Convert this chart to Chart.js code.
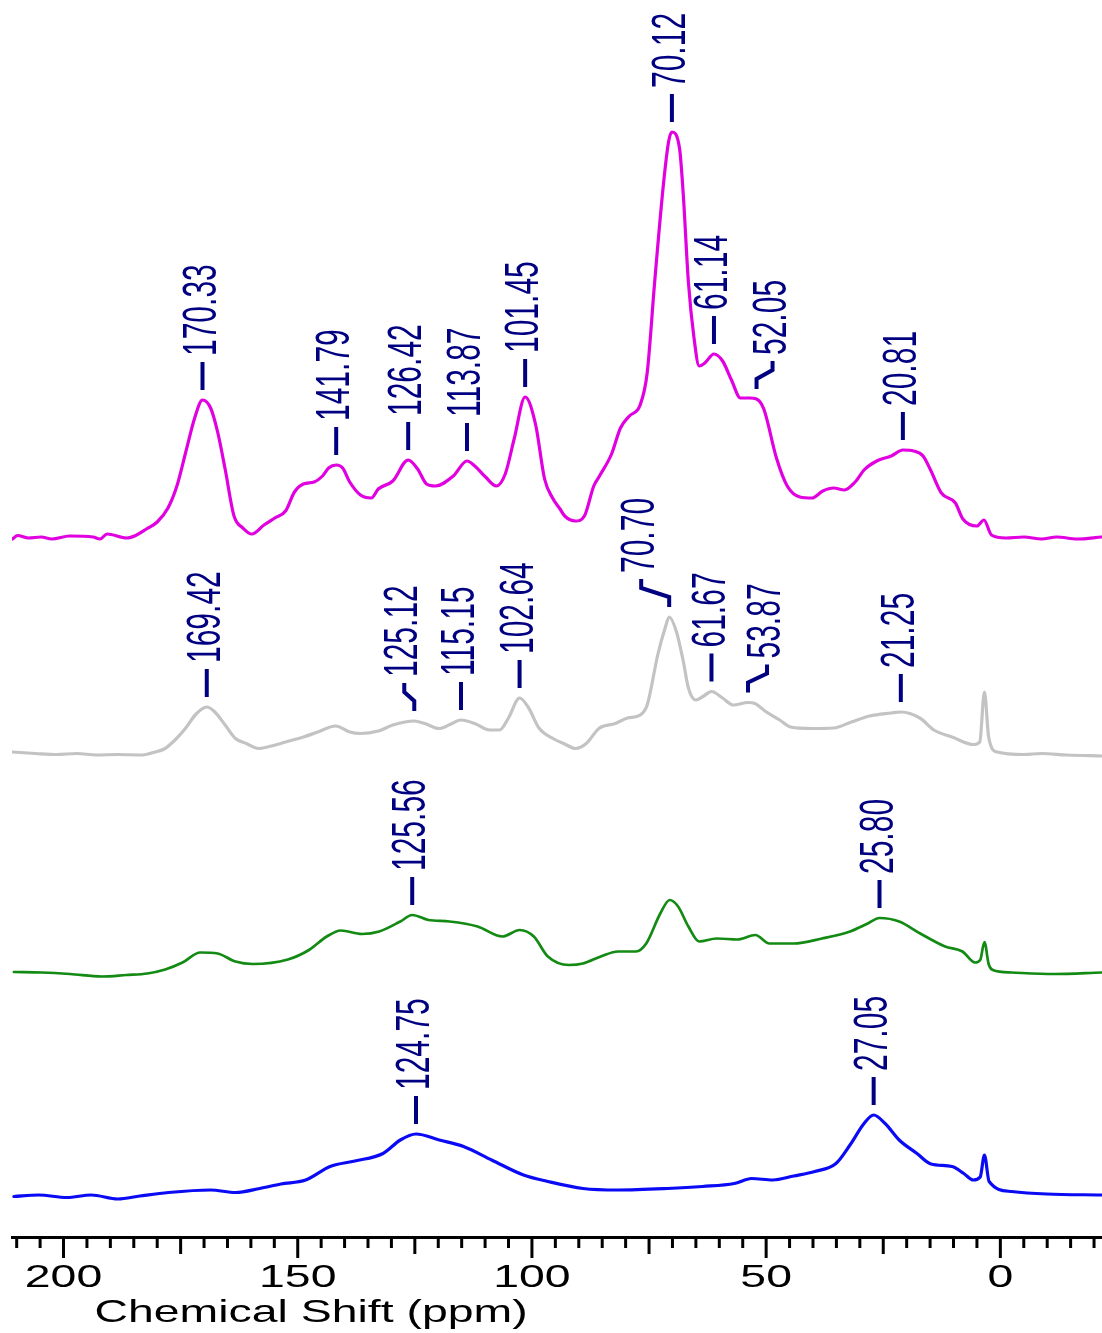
<!DOCTYPE html>
<html>
<head>
<meta charset="utf-8">
<script src="https://cdn.jsdelivr.net/npm/chart.js@4.4.1/dist/chart.umd.min.js"></script>
<style>
  html, body { margin: 0; padding: 0; background: #ffffff; }
  canvas { display: block; }
</style>
</head>
<body>
<canvas id="nmr" width="1102" height="1333"></canvas>
<script>
// 13C solid-state NMR spectra: chemical shift (ppm) against intensity (a.u.),
// four samples stacked from top to bottom.

// --- magenta (top) spectrum ---
const magentaPpm = [210.9, 209.8, 207.5, 204.8, 202.5, 198.7, 193.7, 192.2, 190.7, 186.5, 184.6, 182.3, 180.0, 177.7, 175.8, 173.9, 172.0, 170.33, 168.6, 167.1, 165.5, 163.6, 161.7, 159.8, 157.2, 154.9, 152.6, 150.7, 148.8, 146.5, 144.7, 143.4, 141.79, 140.4, 138.9, 136.6, 134.3, 132.8, 129.7, 126.42, 124.4, 122.5, 120.6, 116.8, 113.87, 112.2, 109.9, 107.6, 105.7, 103.8, 101.45, 99.2, 97.3, 95.6, 94.0, 93.0, 90.7, 88.8, 86.8, 85.7, 83.0, 81.1, 79.2, 76.9, 75.4, 73.8, 71.9, 70.8, 70.12, 68.5, 67.7, 66.6, 65.4, 64.3, 63.1, 61.14, 59.3, 57.4, 55.5, 53.5, 52.05, 50.5, 47.8, 45.5, 42.8, 40.2, 37.9, 35.6, 33.3, 31.0, 29.1, 26.4, 23.3, 20.81, 18.5, 16.5, 14.9, 12.6, 9.6, 8.0, 5.0, 3.5, 1.9, -1.2, -5.0, -8.8, -12.0, -16.4, -21.6];
const magentaInt = [-2, 1.5, -1, 0, -2, 1, 0, -2, 3, -1, 1.5, 8, 15, 29, 51, 85, 119, 137, 129, 105, 68, 21, 9, 3, 12, 19, 26, 45, 53, 55, 61, 69, 72, 69, 55, 42, 39, 48, 56, 77, 68, 53, 51, 61, 76, 71, 60, 51, 63, 98, 140, 112, 58, 39, 28, 21, 16, 21, 51, 60, 83, 109, 121, 132, 164, 255, 354, 396, 405, 389, 343, 255, 199, 171, 174, 183, 176, 157, 139, 139, 138, 128, 79, 51, 40, 39, 46, 49, 47, 55, 67, 76, 81, 87, 86, 81, 67, 44, 34, 18, 11, 17, 2, -1, 0, -2, 0, -2, 0];
const magentaPeaks = [170.33, 141.79, 126.42, 113.87, 101.45, 70.12, 61.14, 52.05, 20.81];

// --- grey spectrum ---
const greyPpm = [210.9, 206.0, 201.4, 197.2, 193.0, 188.4, 183.1, 180.8, 178.5, 176.2, 173.9, 171.7, 169.42, 167.8, 165.5, 163.3, 161.0, 158.3, 155.6, 152.6, 148.8, 145.7, 141.9, 138.9, 136.6, 132.8, 129.7, 125.12, 122.9, 119.8, 117.5, 115.15, 112.2, 109.1, 106.9, 105.0, 102.64, 100.7, 98.5, 95.3, 93.0, 90.7, 88.4, 85.7, 82.2, 79.6, 76.9, 75.4, 73.1, 71.5, 70.70, 69.2, 67.7, 66.6, 65.0, 63.5, 61.67, 59.3, 57.0, 53.87, 52.4, 50.1, 47.1, 44.8, 40.2, 35.6, 31.8, 27.9, 23.3, 21.25, 17.2, 14.2, 10.3, 5.7, 4.4, 3.4, 2.5, 0.7, -5.0, -8.8, -14.2, -21.6];
const greyInt = [0, -1.5, -2.5, -1.5, -3, -2.5, -3, -0.5, 3, 12, 24, 38, 45, 40.5, 27, 13.5, 8.5, 3.5, 6, 10, 15, 20, 26, 20, 18.5, 21, 27, 31, 28.5, 23.5, 27.5, 32, 28.5, 22, 22, 34, 54, 44, 24, 13, 8, 3.5, 8.5, 23.5, 28.5, 34, 37, 47, 98, 125, 135, 121, 91, 64, 52, 55.5, 60.5, 54, 47, 49.5, 48.5, 40.5, 32, 25, 23.5, 24, 30, 36, 39, 40, 34, 22, 15, 7.5, 10, 60, 15, 0, -2.5, -1.5, -3, -4];
const greyPeaks = [169.42, 125.12, 115.15, 102.64, 70.70, 61.67, 53.87, 21.25];

// --- green spectrum ---
const greenPpm = [210.6, 204.6, 198.6, 191.8, 186.6, 182.1, 178.3, 174.6, 170.8, 167.1, 163.3, 159.6, 152.1, 147.6, 143.8, 140.8, 136.3, 132.6, 128.1, 125.56, 122.1, 117.6, 111.6, 106.3, 102.6, 99.6, 96.6, 92.1, 89.1, 85.3, 81.6, 77.8, 75.6, 72.6, 70.6, 68.8, 66.6, 64.3, 60.6, 56.1, 52.3, 49.3, 44.1, 38.1, 32.1, 28.3, 25.80, 21.6, 17.1, 11.8, 8.1, 5.4, 4.3, 3.4, 2.5, 1.6, -2.4, -11.4, -21.6];
const greenInt = [0, -0.5, -2, -4.5, -3, -1.5, 2.5, 9.5, 19.5, 18.5, 10.5, 8, 12.5, 22, 35.5, 41.5, 38, 40.5, 50.5, 57, 52, 50.5, 45.5, 35.5, 42, 35.5, 15.5, 7, 8.5, 15.5, 20.5, 20.5, 28.5, 58.5, 72, 65.5, 45.5, 30.5, 33.5, 32.5, 37, 28.5, 28.5, 33.5, 40.5, 48.5, 54, 50.5, 38.5, 25.5, 20.5, 9.5, 12, 30, 8, 2, -0.5, -2, -0.5];
const greenPeaks = [125.56, 25.80];

// --- blue (bottom) spectrum ---
const bluePpm = [210.6, 205.3, 199.3, 194.1, 188.4, 183.7, 177.6, 168.6, 163.3, 158.1, 153.6, 148.3, 143.1, 137.8, 131.8, 128.1, 124.75, 119.8, 114.6, 108.6, 101.8, 96.6, 89.1, 81.6, 71.1, 63.6, 56.8, 53.1, 48.6, 44.1, 39.6, 35.1, 32.1, 29.1, 27.05, 24.6, 21.6, 17.8, 14.8, 10.3, 7.8, 5.8, 4.3, 3.4, 2.4, -2.4, -9.9, -21.6];
const blueInt = [-1.5, 0, -2.5, 0, -4, -1, 2.5, 5, 2.5, 6.5, 11, 15, 28.5, 34, 41.5, 55, 61, 55, 48.5, 35, 20, 13.5, 6.5, 5, 6.5, 8.5, 11.5, 16.5, 15, 19, 23.5, 31.5, 50, 71.5, 80, 71.5, 55, 41.5, 31, 28.5, 21.5, 15, 18, 40, 13.5, 3.5, 1, 0];
const bluePeaks = [124.75, 27.05];

// Axis tick labels and title
const tickLabels = [200, 150, 100, 50, 0];
const axisTitle = 'Chemical Shift (ppm)';

// Layout / style settings
const LABEL_COLOR = '#000080';
const FONT = '"Liberation Sans", Arial, Helvetica, sans-serif';
const AXIS_TEXT_STRETCH = 1.45;   // horizontal widening of the axis text
const PEAK_TEXT_STRETCH = 1.6;    // horizontal widening of the rotated peak labels

const spectra = [
  { ppm: magentaPpm, int: magentaInt, peaks: magentaPeaks, color: '#e000e0', width: 3.2, offset: 700, shift: { 52.05: 16 } },
  { ppm: greyPpm,    int: greyInt,    peaks: greyPeaks,    color: '#c3c3c3', width: 3.2, offset: 485, shift: { 125.12: -10, 70.70: -28, 53.87: 19 } },
  { ppm: greenPpm,   int: greenInt,   peaks: greenPeaks,   color: '#138a13', width: 2.7, offset: 265, shift: {} },
  { ppm: bluePpm,    int: blueInt,    peaks: bluePeaks,    color: '#0a0af5', width: 3.2, offset: 42,  shift: {} }
];

// Peak-pick labels: leader line above each picked peak, rotated value text
const peakLabelPlugin = {
  id: 'peakLabels',
  afterDatasetsDraw(chart) {
    const { ctx, scales: { x, y } } = chart;
    ctx.save();
    ctx.strokeStyle = LABEL_COLOR;
    ctx.fillStyle = LABEL_COLOR;
    ctx.lineWidth = 4;
    ctx.lineJoin = 'miter';
    ctx.font = '30px ' + FONT;
    ctx.textBaseline = 'middle';
    ctx.textAlign = 'left';
    spectra.forEach(s => {
      s.peaks.forEach(v => {
        const i = s.ppm.indexOf(v);
        const px = x.getPixelForValue(v);
        const py = y.getPixelForValue(s.int[i] + s.offset);
        const dx = s.shift[v] || 0;
        const lx = px + dx;
        const bottom = py - 10;
        const top = py - 38;
        ctx.beginPath();
        ctx.moveTo(px, bottom);
        if (dx) {
          ctx.lineTo(px, bottom - 10);
          ctx.lineTo(lx, top + 9);
        }
        ctx.lineTo(lx, top);
        ctx.stroke();
        ctx.save();
        ctx.translate(lx, top - 6);
        ctx.rotate(-Math.PI / 2);
        ctx.scale(1, PEAK_TEXT_STRETCH);
        ctx.fillText(v.toFixed(2), 0, 0);
        ctx.restore();
      });
    });
    ctx.restore();
  }
};

// ppm axis: tick marks every 5 ppm (longer at 25 and 50), wide labels and title
const ppmAxisPlugin = {
  id: 'ppmAxis',
  afterDraw(chart) {
    const { ctx, chartArea, scales: { x } } = chart;
    const y0 = chartArea.bottom;
    ctx.save();
    ctx.strokeStyle = '#000';
    ctx.fillStyle = '#000';
    ctx.lineWidth = 3;
    x.ticks.forEach(t => {
      const v = Math.round(t.value);
      if (v % 5 !== 0 || v < x.min || v > x.max) return;
      const len = v % 50 === 0 ? 21 : (v % 25 === 0 ? 17 : 11);
      const px = x.getPixelForValue(v);
      ctx.beginPath();
      ctx.moveTo(px, y0);
      ctx.lineTo(px, y0 + len);
      ctx.stroke();
    });
    ctx.font = '32px ' + FONT;
    ctx.textAlign = 'center';
    ctx.textBaseline = 'alphabetic';
    tickLabels.forEach(v => {
      ctx.save();
      ctx.translate(x.getPixelForValue(v), y0 + 50);
      ctx.scale(AXIS_TEXT_STRETCH, 1);
      ctx.fillText(String(v), 0, 0);
      ctx.restore();
    });
    ctx.save();
    ctx.translate(311, y0 + 85);
    ctx.scale(AXIS_TEXT_STRETCH, 1);
    ctx.fillText(axisTitle, 0, 0);
    ctx.restore();
    ctx.restore();
  }
};

new Chart(document.getElementById('nmr'), {
  type: 'line',
  data: {
    datasets: spectra.map(s => ({
      data: s.ppm.map((p, i) => ({ x: p, y: s.int[i] + s.offset })),
      borderColor: s.color,
      borderWidth: s.width,
      pointRadius: 0,
      fill: false,
      cubicInterpolationMode: 'monotone',
      borderJoinStyle: 'round',
      borderCapStyle: 'round'
    }))
  },
  options: {
    responsive: false,
    devicePixelRatio: 1,
    animation: false,
    layout: { padding: { left: 12, right: 0, top: 0, bottom: 0 } },
    plugins: { legend: { display: false }, tooltip: { enabled: false } },
    scales: {
      x: {
        type: 'linear',
        reverse: true,
        min: -21.7,
        max: 211,
        ticks: { display: false, stepSize: 5, includeBounds: false },
        grid: { display: false },
        border: { display: true, color: '#000', width: 3 },
        afterFit(scale) { scale.height = 96; }
      },
      y: {
        type: 'linear',
        display: false,
        min: 0,
        max: 1237
      }
    }
  },
  plugins: [peakLabelPlugin, ppmAxisPlugin]
});
</script>
</body>
</html>
